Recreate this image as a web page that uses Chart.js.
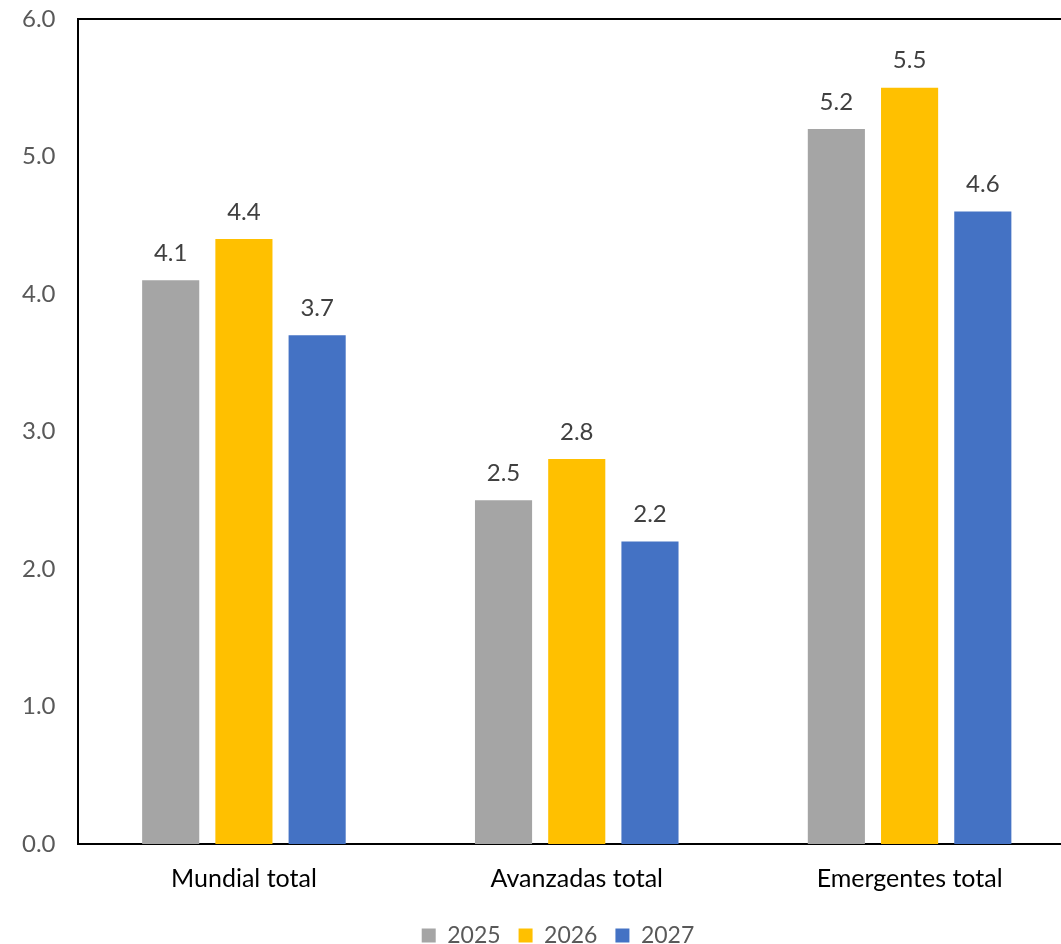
<!DOCTYPE html>
<html>
<head>
<meta charset="utf-8">
<script src="https://cdn.jsdelivr.net/npm/chart.js@4.4.1/dist/chart.umd.min.js"></script>
<style>
  html, body { margin: 0; padding: 0; background: #fff; overflow: hidden; }
  /* the source plot area runs past the right edge of the picture */
  #wrap { width: 1076px; height: 944px; position: relative; }
</style>
</head>
<body>
<div id="wrap"><canvas id="chart"></canvas></div>
<script>
const CATEGORIES = ['Mundial total', 'Avanzadas total', 'Emergentes total'];
const YEARS = ['2025', '2026', '2027'];
const VALUES_2025 = [4.1, 2.5, 5.2];
const VALUES_2026 = [4.4, 2.8, 5.5];
const VALUES_2027 = [3.7, 2.2, 4.6];
const COLORS = ['#A5A5A5', '#FFC000', '#4472C4'];

const FONT = 'Lato, "Open Sans", sans-serif';

// labels above each bar
const barLabels = {
  id: 'barLabels',
  afterDatasetsDraw(chart) {
    const { ctx } = chart;
    ctx.save();
    ctx.font = '24px ' + FONT;
    ctx.fillStyle = '#404040';
    ctx.textAlign = 'center';
    ctx.textBaseline = 'bottom';
    chart.data.datasets.forEach((ds, i) => {
      chart.getDatasetMeta(i).data.forEach((bar, j) => {
        ctx.fillText(ds.data[j].toFixed(1), bar.x, bar.y - 15);
      });
    });
    ctx.restore();
  },
};

// frame: top and right lines of the plot area
const frame = {
  id: 'frame',
  afterDraw(chart) {
    const { ctx, chartArea: a } = chart;
    ctx.save();
    ctx.strokeStyle = '#000';
    ctx.lineWidth = 2;
    ctx.beginPath();
    ctx.moveTo(a.left, a.top);
    ctx.lineTo(a.right, a.top);
    ctx.lineTo(a.right, a.bottom);
    ctx.stroke();
    ctx.restore();
  },
};

// legend in the source is centred a bit right of the canvas middle
const legendShift = {
  id: 'legendShift',
  afterLayout(chart) {
    if (!chart.legend) return;
    chart.legend.left += 20;
    chart.legend.right += 20;
  },
};

new Chart(document.getElementById('chart'), {
  type: 'bar',
  data: {
    labels: CATEGORIES,
    datasets: [
      { label: YEARS[0], data: VALUES_2025, backgroundColor: COLORS[0] },
      { label: YEARS[1], data: VALUES_2026, backgroundColor: COLORS[1] },
      { label: YEARS[2], data: VALUES_2027, backgroundColor: COLORS[2] },
    ],
  },
  options: {
    responsive: true,
    maintainAspectRatio: false,
    animation: false,
    devicePixelRatio: 1,
    categoryPercentage: 0.66,
    barPercentage: 0.78,
    layout: { padding: { top: 19, right: 0, left: 0, bottom: -13 } },
    scales: {
      x: {
        grid: { display: false, drawTicks: false },
        border: { display: true, color: '#000', width: 2 },
        ticks: { color: '#000', font: { family: FONT, size: 25 }, padding: 20 },
        afterFit(scale) {
          scale.paddingLeft = 0;
          scale.paddingRight = 0;
          scale.height = scale.height - 8;
        },
      },
      y: {
        min: 0,
        max: 6,
        grid: { display: false, drawTicks: false },
        border: { display: true, color: '#000', width: 2 },
        ticks: {
          stepSize: 1,
          color: '#595959',
          font: { family: FONT, size: 24 },
          padding: 22,
          callback: (v) => v.toFixed(1),
        },
        afterFit(scale) { scale.paddingTop = 0; scale.paddingBottom = 0; },
      },
    },
    plugins: {
      legend: {
        position: 'bottom',
        labels: {
          color: '#595959',
          font: { family: FONT, size: 23 },
          boxWidth: 14,
          boxHeight: 14,
          padding: 18,
        },
      },
      tooltip: { enabled: false },
    },
  },
  plugins: [barLabels, frame, legendShift],
});
</script>
</body>
</html>
